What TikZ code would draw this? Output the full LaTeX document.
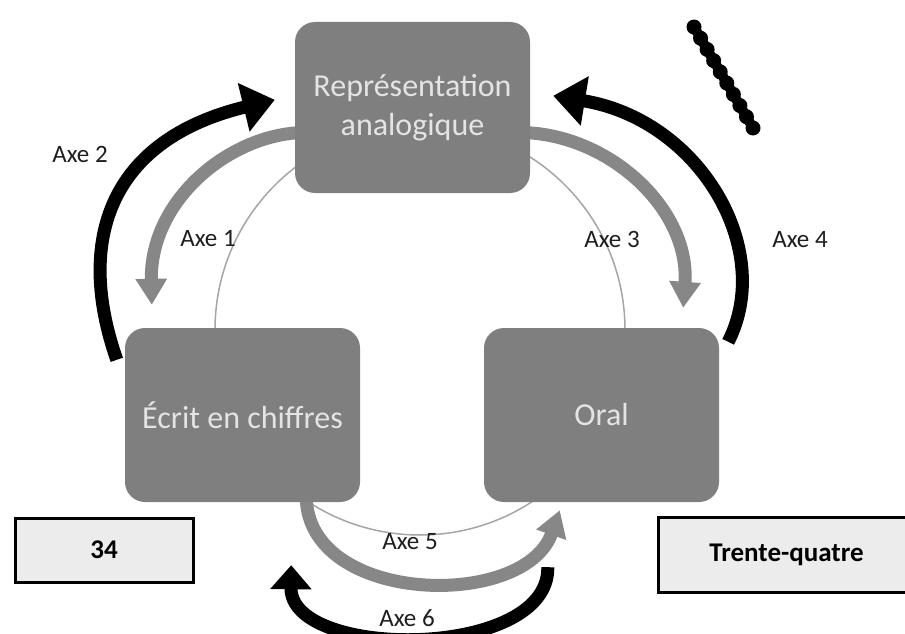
\documentclass[tikz,border=0pt]{standalone}
\usepackage{fontspec}
\setmainfont{Carlito}
\usetikzlibrary{arrows.meta,calc,backgrounds}
\definecolor{boxgray}{RGB}{127,127,127}
\definecolor{boxtext}{RGB}{228,228,228}
\definecolor{arrowgray}{RGB}{135,135,135}
\definecolor{ringgray}{RGB}{165,165,165}
\definecolor{cardfill}{RGB}{236,236,236}
\definecolor{labelblack}{RGB}{30,30,30}
\tikzset{
  pole/.style={rectangle, rounded corners=20pt, fill=boxgray, text=boxtext, minimum width=235pt, minimum height=174pt, inner sep=0pt, align=center, font=\fontsize{32}{39}\selectfont},
  card/.style={rectangle, draw=black, line width=3pt, fill=cardfill, inner sep=0pt, font=\bfseries\fontsize{27}{32}\selectfont},
  axe/.style={inner sep=1pt, text=labelblack, font=\fontsize{25}{30}\selectfont},
  ring/.style={draw=ringgray, line width=1.5pt},
  grayarrow/.style={draw=arrowgray, line width=13pt, -{Triangle[width=30pt,length=26pt]}},
  blackarrow/.style={draw=black, line width=13pt, -{Triangle[width=48pt,length=32pt]}},
}
\begin{document}
\begin{tikzpicture}[x=1pt,y=-1pt]
	%%%%% START %%%%%
	\useasboundingbox (0,0) rectangle (905,634);
	
	\node[pole, minimum height=171pt] (ana) at (412.5,107.5) {Représentation\\analogique};
	\node[pole] (ecrit) at (242.5,415) {Écrit en chiffres};
	\node[pole] (oral) at (601.5,415) {Oral};
	
	\node[card, minimum width=178pt, minimum height=64pt] (nb) at (104,550) {34};
	\node[card, minimum width=257pt, minimum height=75pt] (mot) at (786.5,554.5) {Trente-quatre};
	
	\begin{scope}[on background layer]
		\draw[ring] (420,330) circle (205);
		
		\draw[grayarrow] ($(ana.west)+(8,25)$) .. controls +(-73,2) and +(-2,-105) .. ($(ecrit.north west)+(27,-23)$);
		\draw[grayarrow] ($(ana.east)+(-8,25)$) .. controls +(88,2) and +(7,-98) .. ($(oral.north east)+(-36,-20)$);
		\draw[grayarrow] ($(ecrit.south east)+(-54,-5)$) .. controls +(2,108) and +(-35,100) .. ($(oral.south west)+(76,8)$);
		
		\draw[blackarrow] ($(ecrit.north west)+(-8,32)$) .. controls +(-42,-120) and +(-165,40) .. ($(ana.north west)+(-20,78)$);
		\draw[blackarrow] ($(oral.north east)+(9,14)$) .. controls +(47,-92) and +(147,24) .. ($(ana.north east)+(23,74)$);
		\draw[blackarrow, -{Triangle[width=40pt,length=24pt]}] ($(oral.south west)+(64,65)$) .. controls +(2,93) and +(-1,95) .. ($(ecrit.south east)+(-69,63)$);
	\end{scope}
	
	\node[axe] (l1) at (208,239) {Axe 1};
	\node[axe] (l2) at (80,154) {Axe 2};
	\node[axe] (l3) at (612,239) {Axe 3};
	\node[axe] (l4) at (800,240) {Axe 4};
	\node[axe] (l5) at (410,542) {Axe 5};
	\node[axe, fill=white] (l6) at (407,618) {Axe 6};
	
	% bead chain top right
	\draw[line width=10pt, line cap=round] (694,27) -- (753,128);
	\foreach \k in {0,...,9}
		\fill ($(694,27)!\k/9!(753,128)$) circle (7.5);
	
	%%%%% END %%%%%
\end{tikzpicture}
\end{document}
